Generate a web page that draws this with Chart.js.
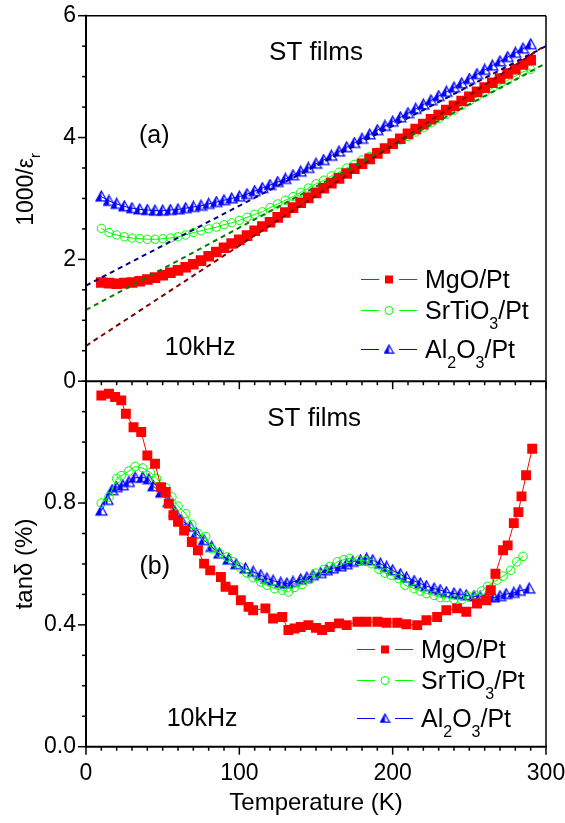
<!DOCTYPE html>
<html>
<head>
<meta charset="utf-8">
<script src="https://cdn.jsdelivr.net/npm/chart.js@4.4.0/dist/chart.umd.min.js"></script>
<style>
  html, body { margin: 0; padding: 0; background: #fff; }
  canvas { display: block; }
</style>
</head>
<body>
<canvas id="chart" width="565" height="823"></canvas>
<script>
// panel (a): 1000/eps_r vs temperature
const tempK = [10, 15, 20, 25, 30, 35, 40, 45, 50, 55, 60, 65, 70, 75, 80, 85, 90, 95, 100, 105,
  110, 115, 120, 125, 130, 135, 140, 145, 150, 155, 160, 165, 170, 175, 180, 185, 190, 195, 200, 205,
  210, 215, 220, 225, 230, 235, 240, 245, 250, 255, 260, 265, 270, 275, 280, 285, 290];
const invEpsMgO = [1.62, 1.61, 1.60, 1.61, 1.62, 1.64, 1.67, 1.70, 1.74, 1.78, 1.82, 1.87, 1.92, 1.98, 2.05, 2.12, 2.19, 2.26, 2.32, 2.39,
  2.47, 2.54, 2.61, 2.69, 2.77, 2.85, 2.93, 3.01, 3.09, 3.17, 3.25, 3.33, 3.41, 3.49, 3.57, 3.65, 3.74, 3.82, 3.90, 3.98,
  4.06, 4.14, 4.22, 4.30, 4.37, 4.45, 4.52, 4.60, 4.67, 4.75, 4.82, 4.90, 4.97, 5.05, 5.12, 5.20, 5.27];
const invEpsSTO = [2.51, 2.44, 2.40, 2.37, 2.35, 2.34, 2.33, 2.33, 2.34, 2.35, 2.37, 2.40, 2.44, 2.47, 2.50, 2.53, 2.57, 2.60, 2.64, 2.69,
  2.74, 2.78, 2.85, 2.91, 2.97, 3.03, 3.10, 3.17, 3.24, 3.30, 3.37, 3.43, 3.50, 3.56, 3.63, 3.69, 3.76, 3.82, 3.89, 3.96,
  4.02, 4.09, 4.16, 4.24, 4.31, 4.38, 4.45, 4.53, 4.60, 4.67, 4.74, 4.81, 4.87, 4.94, 5.01, 5.08, 5.12];
const invEpsAlO = [3.03, 2.96, 2.91, 2.87, 2.84, 2.82, 2.81, 2.80, 2.80, 2.81, 2.82, 2.84, 2.86, 2.88, 2.91, 2.94, 2.97, 3.00, 3.03, 3.07,
  3.12, 3.17, 3.22, 3.27, 3.32, 3.38, 3.44, 3.50, 3.57, 3.63, 3.70, 3.77, 3.84, 3.91, 3.98, 4.05, 4.12, 4.19, 4.26, 4.33,
  4.40, 4.47, 4.54, 4.61, 4.68, 4.75, 4.82, 4.89, 4.96, 5.04, 5.11, 5.18, 5.25, 5.32, 5.39, 5.46, 5.53];

// Curie-Weiss fit lines (end points)
const fitTemp = [0, 300];
const fitMgO = [0.58, 5.52];
const fitSTO = [1.17, 5.22];
const fitAlO = [1.57, 5.50];

// panel (b): tan delta (%) vs temperature
const lossTempMgO = [10, 15, 19, 23, 26, 31, 36, 40, 45, 49, 52, 54, 57, 60, 64, 69, 73, 77, 81, 88,
  91, 96, 101, 106, 109, 117, 122, 128, 132, 136, 140, 145, 150, 154, 159, 165, 170, 177, 183, 190,
  196, 203, 209, 216, 222, 229, 235, 242, 248, 255, 261, 264, 267, 272, 275, 279, 282, 284, 287, 291];
const lossMgO = [1.153, 1.159, 1.148, 1.137, 1.093, 1.049, 1.033, 0.956, 0.929, 0.852, 0.836, 0.798, 0.760, 0.738, 0.710, 0.672, 0.645, 0.601, 0.579, 0.557,
  0.525, 0.514, 0.481, 0.459, 0.448, 0.454, 0.421, 0.426, 0.383, 0.388, 0.393, 0.399, 0.390, 0.383, 0.393, 0.405, 0.399, 0.410, 0.410, 0.410,
  0.407, 0.407, 0.402, 0.399, 0.415, 0.426, 0.448, 0.454, 0.443, 0.470, 0.481, 0.514, 0.568, 0.645, 0.661, 0.734, 0.770, 0.822, 0.891, 0.978];
const lossTempSTO = [10, 15, 20, 23, 28, 32, 37, 42, 46, 52, 56, 60, 65, 69, 73, 78, 82, 87, 92, 96,
  100, 105, 109, 114, 118, 123, 128, 132, 136, 141, 146, 150, 155, 159, 164, 168, 172, 178, 182, 186,
  191, 195, 199, 204, 208, 214, 218, 222, 227, 231, 235, 240, 245, 249, 254, 258, 262, 268, 272, 277, 281, 285];
const lossSTO = [0.80, 0.82, 0.88, 0.89, 0.905, 0.92, 0.915, 0.90, 0.88, 0.85, 0.82, 0.79, 0.765, 0.73, 0.70, 0.69, 0.65, 0.636, 0.623, 0.607,
  0.59, 0.57, 0.555, 0.541, 0.53, 0.519, 0.514, 0.508, 0.523, 0.533, 0.549, 0.57, 0.582, 0.592, 0.607, 0.614, 0.618, 0.612, 0.61, 0.601,
  0.582, 0.57, 0.563, 0.552, 0.53, 0.519, 0.511, 0.503, 0.497, 0.49, 0.49, 0.484, 0.483, 0.494, 0.497, 0.511, 0.527, 0.547, 0.56, 0.579, 0.607, 0.625];
const lossTempAlO = [10, 14, 17, 20, 24, 28, 32, 37, 41, 44, 49, 54, 58, 62, 68, 72, 77, 82, 87, 93,
  98, 104, 109, 114, 118, 122, 127, 131, 135, 140, 144, 148, 153, 157, 161, 166, 170, 174, 179, 183,
  187, 192, 196, 200, 205, 209, 214, 218, 222, 227, 231, 235, 240, 244, 248, 253, 257, 261, 266, 270, 274, 279, 283, 289];
const lossAlO = [0.775, 0.81, 0.842, 0.852, 0.858, 0.869, 0.883, 0.884, 0.878, 0.855, 0.834, 0.803, 0.771, 0.744, 0.722, 0.70, 0.678, 0.656, 0.634, 0.614,
  0.599, 0.585, 0.574, 0.563, 0.552, 0.545, 0.538, 0.536, 0.541, 0.549, 0.555, 0.563, 0.57, 0.579, 0.585, 0.592, 0.599, 0.607, 0.612, 0.617,
  0.612, 0.601, 0.59, 0.579, 0.566, 0.555, 0.544, 0.536, 0.527, 0.519, 0.514, 0.507, 0.503, 0.501, 0.497, 0.494, 0.492, 0.492, 0.49, 0.494, 0.501, 0.505, 0.512, 0.519];

const xTicks = [0, 100, 200, 300];
const epsTicks = [0, 2, 4, 6];
const lossTicks = [0, 0.4, 0.8];
const seriesNames = [
  [['MgO/Pt', false]],
  [['SrTiO', false], ['3', true], ['/Pt', false]],
  [['Al', false], ['2', true], ['O', false], ['3', true], ['/Pt', false]]
];

const FONT = 'Arial, "Liberation Sans", sans-serif';
const RED = '#ff0000', GREEN = '#00ff00', BLUE = '#0000ff';

function pts(xs, ys) { return xs.map((x, i) => ({ x: x, y: ys[i] })); }

// half filled "up" triangle used by Origin
function halfTriangle(size, color) {
  const c = document.createElement('canvas');
  c.width = size + 2; c.height = size + 2;
  const g = c.getContext('2d');
  const x0 = 1, y0 = 1, h = size * 0.9;
  g.beginPath(); g.moveTo(x0 + size / 2, y0); g.lineTo(x0 + size / 2, y0 + h); g.lineTo(x0, y0 + h); g.closePath();
  g.fillStyle = color; g.fill();
  g.beginPath(); g.moveTo(x0 + size / 2, y0); g.lineTo(x0 + size, y0 + h); g.lineTo(x0, y0 + h); g.closePath();
  g.strokeStyle = color; g.lineWidth = 1.2; g.stroke();
  return c;
}
const triBig = halfTriangle(11, BLUE);
const triSmall = halfTriangle(9, BLUE);

function mgo(data, axis, r) {
  return { data, yAxisID: axis, order: 1, borderColor: RED, borderWidth: 1, pointStyle: 'rect',
    pointRadius: r, pointBackgroundColor: RED, pointBorderWidth: 0 };
}
function sto(data, axis, r) {
  return { data, yAxisID: axis, order: 1, borderColor: GREEN, borderWidth: 1, pointStyle: 'circle',
    pointRadius: r, pointBackgroundColor: 'rgba(0,0,0,0)', pointBorderColor: GREEN, pointBorderWidth: 1 };
}
function alo(data, axis) {
  return { data, yAxisID: axis, order: 1, borderColor: BLUE, borderWidth: 1, pointStyle: triBig,
    pointRadius: 5 };
}
function fit(data, color) {
  return { data, yAxisID: 'yTop', order: 0, borderColor: color, borderWidth: 2, borderDash: [5, 4],
    pointRadius: 0 };
}

function line(ctx, x1, y1, x2, y2) {
  ctx.beginPath(); ctx.moveTo(x1, y1); ctx.lineTo(x2, y2); ctx.stroke();
}
function runsWidth(ctx, runs, size) {
  let w = 0;
  for (const [t, sub] of runs) {
    ctx.font = (sub ? Math.round(size * 0.64) : size) + 'px ' + FONT;
    w += ctx.measureText(t).width;
  }
  return w;
}
function drawRuns(ctx, runs, x, y, size, subDrop) {
  let cx = x;
  ctx.textAlign = 'left';
  ctx.textBaseline = 'alphabetic';
  for (const [t, sub] of runs) {
    ctx.font = (sub ? Math.round(size * 0.64) : size) + 'px ' + FONT;
    ctx.fillText(t, cx, sub ? y + subDrop : y);
    cx += ctx.measureText(t).width;
  }
}

// annotations, in data units of each panel
const notes = [
  { axis: 'yTop', t: 150, v: 5.42, text: 'ST films', size: 26 },
  { axis: 'yTop', t: 44.5, v: 4.05, text: '(a)', size: 25 },
  { axis: 'yTop', t: 74.4, v: 0.58, text: '10kHz', size: 25 },
  { axis: 'yLoss', t: 148.8, v: 1.085, text: 'ST films', size: 26 },
  { axis: 'yLoss', t: 44.8, v: 0.598, text: '(b)', size: 25 },
  { axis: 'yLoss', t: 75.7, v: 0.096, text: '10kHz', size: 25 }
];
const legends = [
  { axis: 'yTop', t: 197.6, rows: [1.68, 1.17, 0.53], tri: triSmall },
  { axis: 'yLoss', t: 195, rows: [0.320, 0.219, 0.094], tri: triSmall }
];

const decorations = {
  id: 'decorations',
  afterDraw(chart) {
    const { ctx, chartArea: a } = chart;
    const sx = chart.scales.x, st = chart.scales.yTop, sl = chart.scales.yLoss;
    const mid = st.bottom;
    ctx.save();
    ctx.setLineDash([]);
    ctx.lineCap = 'butt';
    ctx.strokeStyle = '#000';
    ctx.fillStyle = '#000';

    // frame
    ctx.lineWidth = 1.5;
    line(ctx, a.left, a.top, a.right, a.top);
    line(ctx, a.right, a.top, a.right, a.bottom);
    ctx.lineWidth = 2;
    line(ctx, a.left, a.top - 1, a.left, a.bottom + 1);
    line(ctx, a.left, a.bottom, a.right + 0.75, a.bottom);
    line(ctx, a.left, mid, a.right, mid);

    // ticks, outward, major 8 px, minor 4 px
    ctx.lineWidth = 1.5;
    const xMinor = 10;
    for (let i = 0; i <= Math.round((sx.max - sx.min) / xMinor); i++) {
      const v = sx.min + i * xMinor;
      const p = sx.getPixelForValue(v);
      const len = xTicks.includes(v) ? 8 : 4;
      line(ctx, p, a.bottom, p, a.bottom + len);
      line(ctx, p, mid, p, mid + len);
    }
    const yAxes = [[st, 0.5, epsTicks], [sl, 0.1, lossTicks]];
    for (const [s, step, majors] of yAxes) {
      for (let i = 0; i <= Math.round((s.max - s.min) / step); i++) {
        const v = s.min + i * step;
        const p = s.getPixelForValue(v);
        const len = majors.some(m => Math.abs(m - v) < 1e-6) ? 8 : 4;
        line(ctx, a.left, p, a.left - len, p);
      }
    }

    // axis titles
    ctx.font = '24px ' + FONT;
    ctx.textAlign = 'center';
    ctx.textBaseline = 'middle';
    ctx.fillText('Temperature (K)', (a.left + a.right) / 2, 803);

    ctx.save();
    ctx.translate(25, (sl.top + sl.bottom) / 2);
    ctx.rotate(-Math.PI / 2);
    ctx.fillText('tan\u03b4 (%)', 0, 0);
    ctx.restore();

    ctx.save();
    ctx.translate(33, (st.top + st.bottom) / 2 - 9);
    ctx.rotate(-Math.PI / 2);
    const epsRuns = [['1000/\u03b5', false], ['r', true]];
    const w = runsWidth(ctx, epsRuns, 23);
    drawRuns(ctx, epsRuns, -w / 2, 0, 23, 7);
    ctx.restore();

    // annotations
    for (const n of notes) {
      const s = chart.scales[n.axis];
      ctx.font = n.size + 'px ' + FONT;
      ctx.textAlign = 'center';
      ctx.textBaseline = 'alphabetic';
      ctx.fillText(n.text, sx.getPixelForValue(n.t), s.getPixelForValue(n.v) + n.size * 0.36);
    }

    // legends
    const colors = [RED, GREEN, BLUE];
    for (const lg of legends) {
      const s = chart.scales[lg.axis];
      const cx = Math.round(sx.getPixelForValue(lg.t));
      lg.rows.forEach((v, i) => {
        const cy = Math.round(s.getPixelForValue(v));
        ctx.fillStyle = colors[i];
        ctx.fillRect(cx - 28, cy, 18, 1);
        ctx.fillRect(cx + 10, cy, 18, 1);
        if (i === 0) {
          ctx.fillRect(cx - 4, cy - 3.5, 8, 8);
        } else if (i === 1) {
          ctx.strokeStyle = GREEN;
          ctx.lineWidth = 1;
          ctx.beginPath(); ctx.arc(cx, cy + 0.5, 4, 0, Math.PI * 2); ctx.stroke();
        } else {
          ctx.drawImage(lg.tri, cx - lg.tri.width / 2, cy + 0.5 - lg.tri.height / 2);
        }
        ctx.fillStyle = '#000';
        drawRuns(ctx, seriesNames[i], cx + 36, cy + 25 * 0.36, 25, 10);
      });
    }
    ctx.restore();
  }
};

const tickFont = { family: FONT, size: 23 };

new Chart(document.getElementById('chart'), {
  type: 'line',
  data: {
    datasets: [
      fit(pts(fitTemp, fitMgO), '#800000'),
      fit(pts(fitTemp, fitSTO), '#008000'),
      fit(pts(fitTemp, fitAlO), '#000080'),
      mgo(pts(tempK, invEpsMgO), 'yTop', 7.5),
      sto(pts(tempK, invEpsSTO), 'yTop', 4.2),
      alo(pts(tempK, invEpsAlO), 'yTop'),
      mgo(pts(lossTempMgO, lossMgO), 'yLoss', 7),
      sto(pts(lossTempSTO, lossSTO), 'yLoss', 4.3),
      alo(pts(lossTempAlO, lossAlO), 'yLoss')
    ]
  },
  options: {
    responsive: false,
    animation: false,
    devicePixelRatio: 1,
    layout: { padding: { top: 15.7, right: 19, bottom: 0, left: 0 } },
    plugins: { legend: { display: false }, tooltip: { enabled: false } },
    scales: {
      x: {
        type: 'linear', position: 'bottom', min: 0, max: 300,
        afterBuildTicks: s => { s.ticks = xTicks.map(v => ({ value: v })); },
        ticks: { font: tickFont, color: '#000', padding: 5, maxRotation: 0, callback: v => String(v) },
        grid: { display: false, drawTicks: true, tickLength: 8 },
        border: { display: false },
        afterFit: s => { s.height = 823 - 746.7; s.paddingLeft = 0; s.paddingRight = 0; }
      },
      // the panel stack is filled from the last listed axis downwards
      yLoss: {
        type: 'linear', position: 'left', stack: 'panels', stackWeight: 1, min: 0, max: 1.2,
        afterBuildTicks: s => { s.ticks = lossTicks.map(v => ({ value: v })); },
        ticks: { font: tickFont, color: '#000', padding: 2, callback: v => v.toFixed(1) },
        grid: { display: false, drawTicks: true, tickLength: 8 },
        border: { display: false },
        afterFit: s => { s.width = 86; s.paddingTop = 0; s.paddingBottom = 0; }
      },
      yTop: {
        type: 'linear', position: 'left', stack: 'panels', stackWeight: 1, min: 0, max: 6,
        afterBuildTicks: s => { s.ticks = epsTicks.map(v => ({ value: v })); },
        ticks: { font: tickFont, color: '#000', padding: 2, callback: v => String(v) },
        grid: { display: false, drawTicks: true, tickLength: 8 },
        border: { display: false },
        afterFit: s => { s.width = 86; s.paddingTop = 0; s.paddingBottom = 0; }
      }
    }
  },
  plugins: [decorations]
});
</script>
</body>
</html>
